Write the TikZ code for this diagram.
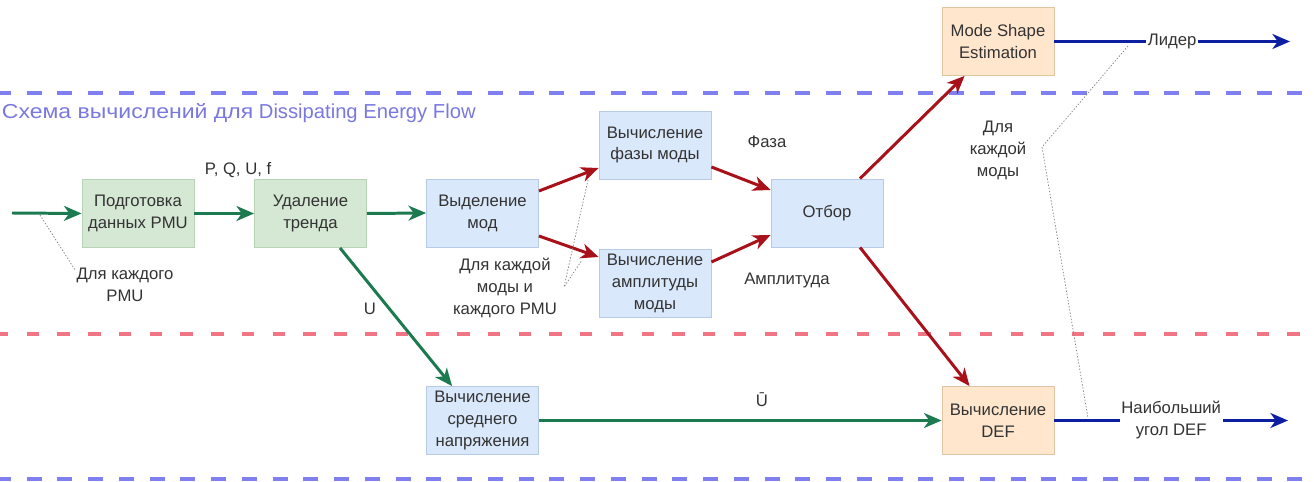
\documentclass[tikz,border=0pt]{standalone}
\usepackage{fontspec}
\setmainfont{Liberation Sans}
\usetikzlibrary{arrows.meta,calc}
\definecolor{gfill}{HTML}{D5E8D4}
\definecolor{gdraw}{HTML}{B9D3B7}
\definecolor{bfill}{HTML}{DAE8FC}
\definecolor{bdraw}{HTML}{B8CBE6}
\definecolor{ofill}{HTML}{FFE6CC}
\definecolor{odraw}{HTML}{E0C4A4}
\definecolor{garrow}{HTML}{1B7A50}
\definecolor{rarrow}{HTML}{A8111A}
\definecolor{barrow}{HTML}{0D1FA0}
\definecolor{bdash}{HTML}{7F7FF0}
\definecolor{rdash}{HTML}{F07585}
\definecolor{titlec}{HTML}{7A78E0}
\definecolor{txt}{HTML}{333333}
\tikzset{
  box/.style={draw=#1, line width=0.5pt, minimum width=2.24cm, minimum height=1.36cm,
    align=center, inner sep=1pt, text=txt, font=\fontsize{9.5}{12.5}\selectfont},
  gbox/.style={box=gdraw, fill=gfill},
  bbox/.style={box=bdraw, fill=bfill},
  obox/.style={box=odraw, fill=ofill},
  lbl/.style={text=txt, align=center, inner sep=1pt, font=\fontsize{9.5}{12.5}\selectfont},
  flow/.style={line width=1.7pt, -{Stealth[length=10pt,width=8.5pt,inset=3pt]}},
  garr/.style={flow, draw=garrow},
  rarr/.style={flow, draw=rarrow},
  barr/.style={flow, draw=barrow},
  note/.style={draw=gray, line width=0.4pt, dash pattern=on 0.8pt off 1pt},
}
\begin{document}
\begin{tikzpicture}[x=0.02cm,y=-0.02cm]
\useasboundingbox (0,0) rectangle (1314,482);

% separators
\draw[bdash, line width=2.2pt, dash pattern=on 8.5pt off 9pt] (-4,93) -- (1318,93);
\draw[rdash, line width=1.8pt, dash pattern=on 7pt off 10.5pt] (-4,334) -- (1318,334);
\draw[bdash, line width=2.2pt, dash pattern=on 8.5pt off 9pt] (-4,479) -- (1318,479);

\node[anchor=east, inner sep=0pt, text=titlec, font=\fontsize{11.5}{14}\selectfont] (title) at (476,113) {\scalebox{1.14}[1]{Схема вычислений для} Dissipating Energy Flow};

% boxes
\node[gbox] (b1) at (138,213.5) {Подготовка\\данных PMU};
\node[gbox] (b2) at (310.5,213.5) {Удаление\\тренда};
\node[bbox] (b3) at (482.5,213) {Выделение\\мод};
\node[bbox] (b4) at (655,145) {Вычисление\\фазы моды};
\node[bbox] (b5) at (655,283) {Вычисление\\амплитуды\\моды};
\node[bbox] (b6) at (827,213) {Отбор};
\node[obox] (b7) at (998,41.5) {Mode Shape\\Estimation};
\node[obox] (b8) at (998,420.5) {Вычисление\\DEF};
\node[bbox] (b9) at (482.5,420.5) {Вычисление\\среднего\\напряжения};

% free ends
\coordinate (in) at (12,213);
\coordinate (out1) at (1290,41.5);
\coordinate (out2) at (1288,420.5);

% green arrows
\draw[garr] (in) -- (b1.west);
\draw[garr] (b1.east) -- (b2.west);
\draw[garr] (b2.east) -- (b3.west);
\draw[garr] ($(b2.south)+(29.5,0)$) -- ($(b9.north west)+(26,0)$);
\draw[garr] (b9.east) -- (b8.west);

% red arrows
\draw[rarr] ($(b3.east)+(0,-22)$) -- ($(b4.west)+(0,23)$);
\draw[rarr] ($(b3.east)+(0,23)$) -- ($(b5.west)+(0,-26)$);
\draw[rarr] ($(b4.east)+(0,22)$) -- ($(b6.west)+(0,-23)$);
\draw[rarr] ($(b5.east)+(0,-21)$) -- ($(b6.west)+(0,22)$);
\draw[rarr] ($(b6.north)+(33,0)$) -- ($(b7.south west)+(23,0)$);
\draw[rarr] ($(b6.south)+(33,0)$) -- ($(b8.north west)+(28,0)$);

% blue output arrows
\draw[barr] (b7.east) -- node[fill=white, lbl] (lider) {Лидер} (out1);
\draw[barr] (b8.east) -- node[fill=white, lbl] (maxang) {Наибольший\\угол DEF} (out2);

% labels
\node[lbl] (pquf) at (238,170) {P, Q, U, f};
\node[lbl] (pmu) at (125,285) {Для каждого\\PMU};
\node[lbl] (ulbl) at (370,309) {U};
\node[lbl] (modpmu) at (505,288) {Для каждой\\моды и\\каждого PMU};
\node[lbl] (faza) at (767,142) {Фаза};
\node[lbl] (ampl) at (787,280) {Амплитуда};
\node[lbl] (ubar) at (762,400) {Ū};
\node[lbl] (eachmode) at (998,150) {Для\\каждой\\моды};

% dotted annotation lines
\coordinate (n1a) at (40,215);
\coordinate (n1b) at (75,270);
\draw[note] (n1a) -- (n1b);
\coordinate (n2a) at (564,287);
\coordinate (n2b) at (588,180);
\coordinate (n2c) at (582,260);
\draw[note] (n2b) -- (n2a) -- (n2c);
\coordinate (n3a) at (1128,46);
\coordinate (n3b) at (1042,147);
\coordinate (n3c) at (1088,418);
\draw[note] (n3a) -- (n3b) -- (n3c);
\end{tikzpicture}
\end{document}
